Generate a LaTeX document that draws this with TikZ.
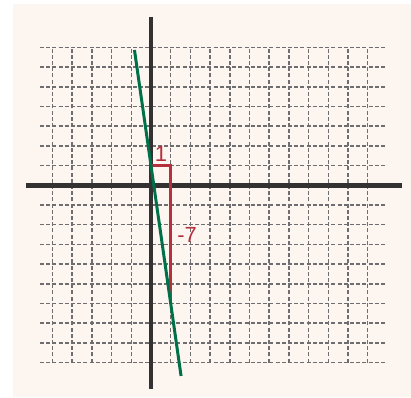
\documentclass[tikz,border=0pt]{standalone}
\usepackage{fontspec}
\setmainfont{Liberation Sans}
\definecolor{bgcream}{RGB}{253,246,240}
\definecolor{gridgray}{RGB}{110,110,112}
\definecolor{axisdark}{RGB}{51,49,50}
\definecolor{slopered}{RGB}{181,48,63}
\definecolor{linegreen}{RGB}{0,112,74}
\tikzset{
  gridline/.style={gridgray, line width=1.5bp, dash pattern=on 4bp off 2.2bp},
  axisline/.style={axisdark, line width=4.6bp},
  redline/.style={slopered, line width=3bp},
  greenline/.style={linegreen, line width=3bp},
  lbl/.style={text=slopered, font=\fontsize{22}{22}\selectfont, inner sep=0pt}
}
\begin{document}
\begin{tikzpicture}[x=1bp,y=1bp]
\useasboundingbox (0,0) rectangle (411,398);
\fill[bgcream] (13,1) rectangle (411,394);
\begin{scope}[shift={(151,212.7)}, x=19.7bp, y=19.7bp]
  % grid
  \foreach \j in {-9,...,7} \draw[gridline] (-5.63,\j) -- (11.88,\j);
  \foreach \i in {-5,...,11} \draw[gridline] (\i,-9) -- (\i,7);
  % axes
  \coordinate (xl) at (-6.35,0);
  \coordinate (xr) at (12.72,0);
  \coordinate (yt) at (0,8.56);
  \coordinate (yb) at (0,-10.36);
  \draw[axisline] (xl) -- (xr);
  \draw[axisline] (yt) -- (yb);
  % slope triangle
  \coordinate (p0) at (0,1);
  \coordinate (p1) at (1,1);
  \coordinate (p2) at (1,-6);
  \draw[redline] (p0) -- (p1) -- (p2);
  % line y = -7x + 1
  \coordinate (gt) at (-0.839,6.87);
  \coordinate (gb) at (1.526,-9.68);
  \draw[greenline] (gt) -- (gb);
  % labels
  \node[lbl] (run) at (0.5,1.57) {1};
  \node[lbl] (rise) at (1.83,-2.54) {-7};
\end{scope}
\end{tikzpicture}
\end{document}
